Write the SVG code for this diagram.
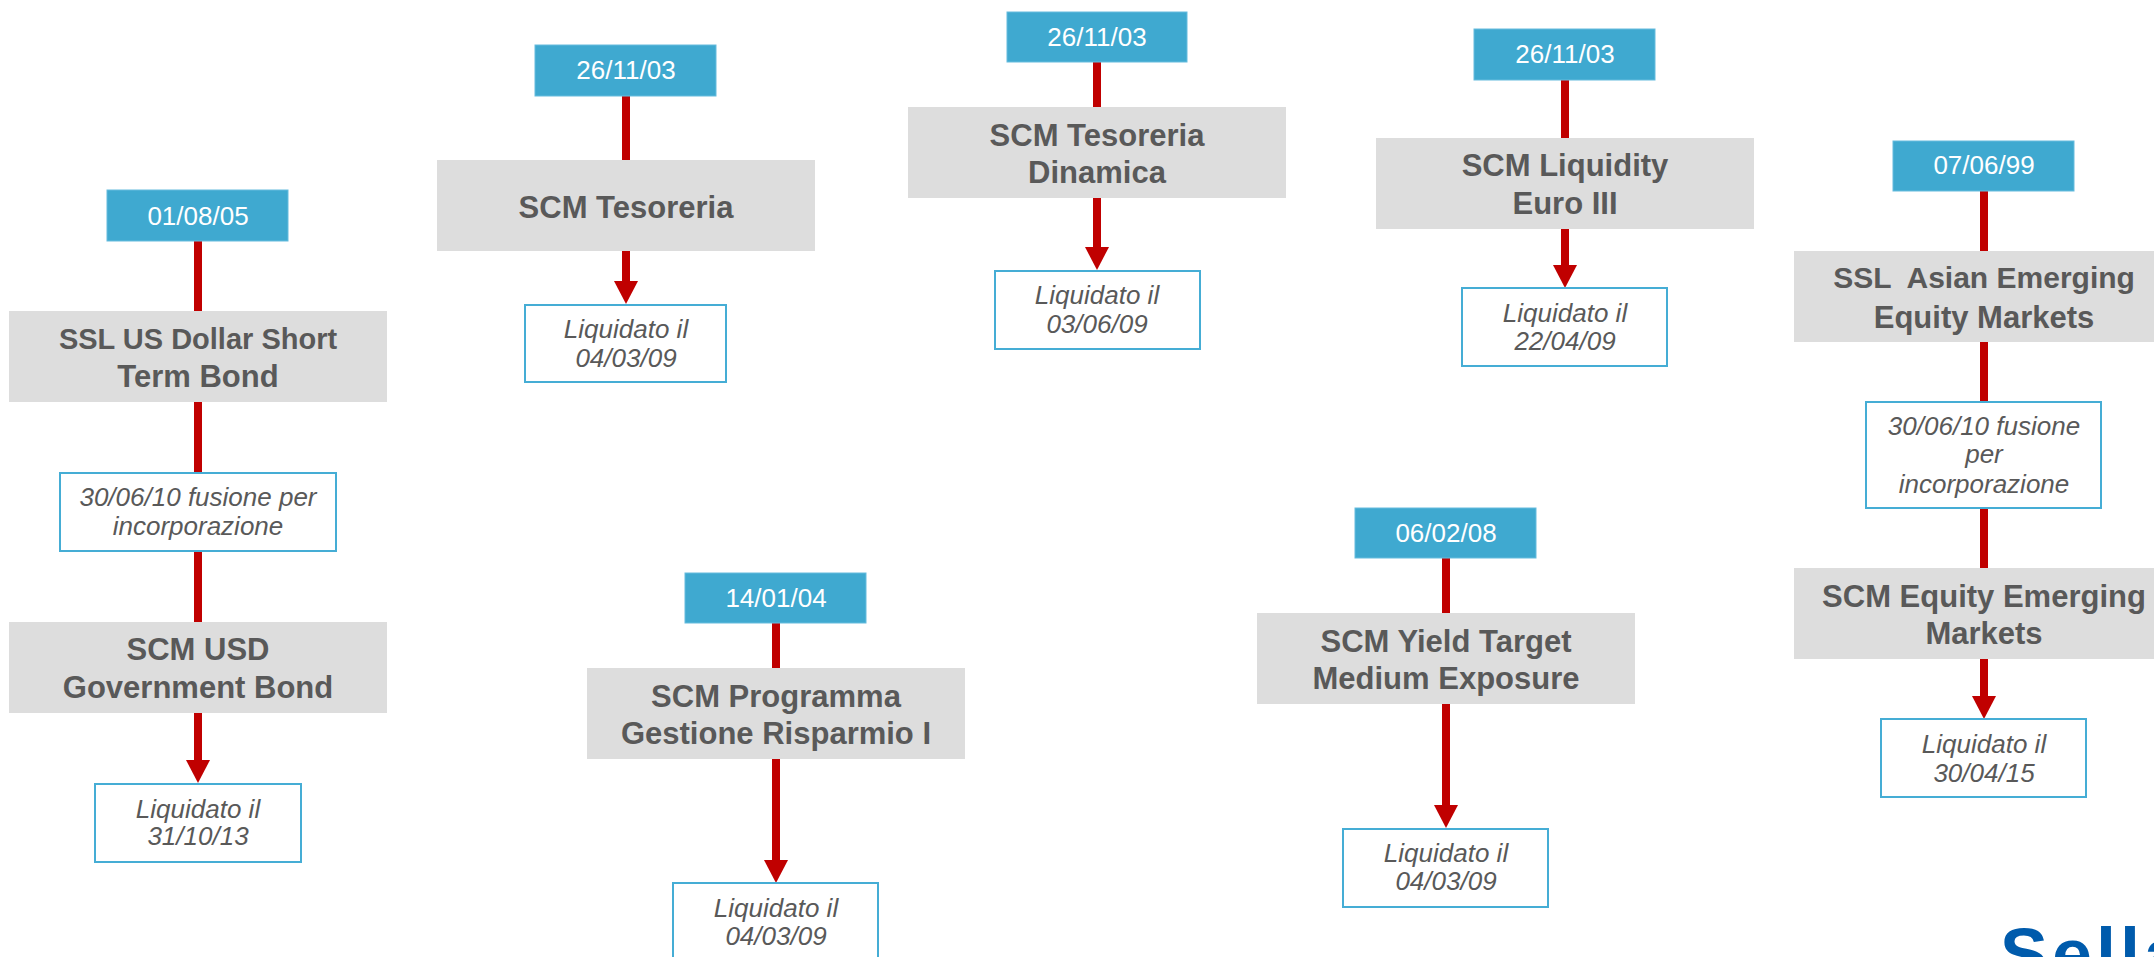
<svg xmlns="http://www.w3.org/2000/svg" width="2154" height="957" viewBox="0 0 2154 957">
<defs>
<style>
.bg{fill:#ffffff}
.date rect{fill:#3FA9D0;stroke:#66BCDE;stroke-width:1}
.date text{font-family:"Liberation Sans",Arial,sans-serif;font-size:26px;fill:#ffffff;text-anchor:middle}
.fund rect{fill:#DDDDDD}
.fund text{font-family:"Liberation Sans",Arial,sans-serif;font-weight:bold;font-size:31px;fill:#595959;text-anchor:middle}
.fund text.s{font-size:29px}
.fund text.m{font-size:30px}
.note rect{fill:#ffffff;stroke:#45ADD5;stroke-width:2}
.note text{font-family:"Liberation Sans",Arial,sans-serif;font-style:italic;font-size:26px;fill:#595959;text-anchor:middle}
.conn line{stroke:#C00000;stroke-width:8;fill:none}
.logo{font-family:"Liberation Sans",Arial,sans-serif;font-weight:bold;font-size:72px;fill:#005BAC;letter-spacing:4px}
</style>
<marker id="ah" markerUnits="userSpaceOnUse" markerWidth="24" markerHeight="24" viewBox="0 -12 23 24" refX="0" refY="0" orient="auto">
<path d="M0,-12 L23,0 L0,12 z" fill="#C00000"/>
</marker>
</defs>
<rect class="bg" x="0" y="0" width="2154" height="957"/>

<g id="connectors" class="conn">
<line x1="198" y1="241" x2="198" y2="311"/>
<line x1="198" y1="402" x2="198" y2="473"/>
<line x1="198" y1="551" x2="198" y2="622"/>
<line x1="198" y1="713" x2="198" y2="760" marker-end="url(#ah)"/>
<line x1="626" y1="96" x2="626" y2="160"/>
<line x1="626" y1="251" x2="626" y2="281" marker-end="url(#ah)"/>
<line x1="1097" y1="62" x2="1097" y2="107"/>
<line x1="1097" y1="198" x2="1097" y2="247" marker-end="url(#ah)"/>
<line x1="1565" y1="80" x2="1565" y2="138"/>
<line x1="1565" y1="229" x2="1565" y2="265" marker-end="url(#ah)"/>
<line x1="1984" y1="191" x2="1984" y2="251"/>
<line x1="1984" y1="342" x2="1984" y2="402"/>
<line x1="1984" y1="508" x2="1984" y2="568"/>
<line x1="1984" y1="659" x2="1984" y2="696" marker-end="url(#ah)"/>
<line x1="776" y1="623" x2="776" y2="668"/>
<line x1="776" y1="759" x2="776" y2="860" marker-end="url(#ah)"/>
<line x1="1446" y1="558" x2="1446" y2="613"/>
<line x1="1446" y1="704" x2="1446" y2="805" marker-end="url(#ah)"/>
</g>

<!-- Column 1 -->
<g id="date1" class="date">
<rect x="107" y="190" width="181" height="51"/>
<text x="198" y="225">01/08/05</text>
</g>
<g id="fund-ssl-usd" class="fund">
<rect x="9" y="311" width="378" height="91"/>
<text class="s" x="198" y="349">SSL US Dollar Short</text>
<text x="198" y="387">Term Bond</text>
</g>
<g id="note-merge1" class="note">
<rect x="60" y="473" width="276" height="78"/>
<text x="198" y="506">30/06/10 fusione per</text>
<text x="198" y="535">incorporazione</text>
</g>
<g id="fund-scm-usd" class="fund">
<rect x="9" y="622" width="378" height="91"/>
<text x="198" y="660">SCM USD</text>
<text x="198" y="698">Government Bond</text>
</g>
<g id="liq1" class="note">
<rect x="95" y="784" width="206" height="78"/>
<text x="198" y="818">Liquidato il</text>
<text x="198" y="845">31/10/13</text>
</g>

<!-- Column 2 -->
<g id="date2" class="date">
<rect x="535" y="45" width="181" height="51"/>
<text x="626" y="79">26/11/03</text>
</g>
<g id="fund-tesoreria" class="fund">
<rect x="437" y="160" width="378" height="91"/>
<text x="626" y="218">SCM Tesoreria</text>
</g>
<g id="liq2" class="note">
<rect x="525" y="305" width="201" height="77"/>
<text x="626" y="338">Liquidato il</text>
<text x="626" y="367">04/03/09</text>
</g>

<!-- Column 3 -->
<g id="date3" class="date">
<rect x="1007" y="12" width="180" height="50"/>
<text x="1097" y="46">26/11/03</text>
</g>
<g id="fund-tesoreria-dinamica" class="fund">
<rect x="908" y="107" width="378" height="91"/>
<text x="1097" y="146">SCM Tesoreria</text>
<text x="1097" y="183">Dinamica</text>
</g>
<g id="liq3" class="note">
<rect x="995" y="271" width="205" height="78"/>
<text x="1097" y="304">Liquidato il</text>
<text x="1097" y="333">03/06/09</text>
</g>

<!-- Column 4 -->
<g id="date4" class="date">
<rect x="1474" y="29" width="181" height="51"/>
<text x="1565" y="63">26/11/03</text>
</g>
<g id="fund-liquidity" class="fund">
<rect x="1376" y="138" width="378" height="91"/>
<text x="1565" y="176">SCM Liquidity</text>
<text x="1565" y="214">Euro III</text>
</g>
<g id="liq4" class="note">
<rect x="1462" y="288" width="205" height="78"/>
<text x="1565" y="322">Liquidato il</text>
<text x="1565" y="350">22/04/09</text>
</g>

<!-- Column 5 -->
<g id="date5" class="date">
<rect x="1893" y="141" width="181" height="50"/>
<text x="1984" y="174">07/06/99</text>
</g>
<g id="fund-ssl-asian" class="fund">
<rect x="1794" y="251" width="380" height="91"/>
<text class="m" xml:space="preserve" x="1984" y="288">SSL  Asian Emerging</text>
<text x="1984" y="328">Equity Markets</text>
</g>
<g id="note-merge2" class="note">
<rect x="1866" y="402" width="235" height="106"/>
<text x="1984" y="435">30/06/10 fusione</text>
<text x="1984" y="463">per</text>
<text x="1984" y="493">incorporazione</text>
</g>
<g id="fund-scm-equity" class="fund">
<rect x="1794" y="568" width="380" height="91"/>
<text x="1984" y="607">SCM Equity Emerging</text>
<text x="1984" y="644">Markets</text>
</g>
<g id="liq5" class="note">
<rect x="1881" y="719" width="205" height="78"/>
<text x="1984" y="753">Liquidato il</text>
<text x="1984" y="782">30/04/15</text>
</g>

<!-- Column 6 -->
<g id="date6" class="date">
<rect x="685" y="573" width="181" height="50"/>
<text x="776" y="607">14/01/04</text>
</g>
<g id="fund-programma" class="fund">
<rect x="587" y="668" width="378" height="91"/>
<text x="776" y="707">SCM Programma</text>
<text x="776" y="744">Gestione Risparmio I</text>
</g>
<g id="liq6" class="note">
<rect x="673" y="883" width="205" height="78"/>
<text x="776" y="917">Liquidato il</text>
<text x="776" y="945">04/03/09</text>
</g>

<!-- Column 7 -->
<g id="date7" class="date">
<rect x="1355" y="508" width="181" height="50"/>
<text x="1446" y="542">06/02/08</text>
</g>
<g id="fund-yield" class="fund">
<rect x="1257" y="613" width="378" height="91"/>
<text x="1446" y="652">SCM Yield Target</text>
<text x="1446" y="689">Medium Exposure</text>
</g>
<g id="liq7" class="note">
<rect x="1343" y="829" width="205" height="78"/>
<text x="1446" y="862">Liquidato il</text>
<text x="1446" y="890">04/03/09</text>
</g>

<g id="logo">
<text class="logo" x="2000" y="979">Sella</text>
</g>
</svg>
